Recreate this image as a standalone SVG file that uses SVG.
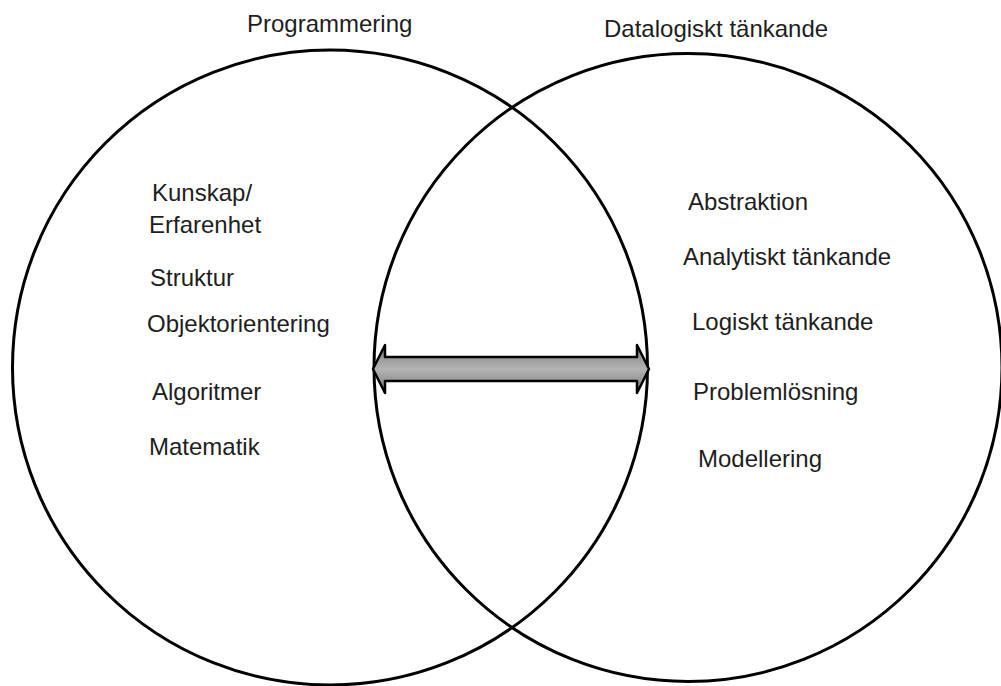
<svg xmlns="http://www.w3.org/2000/svg" width="1001" height="686" viewBox="0 0 1001 686">
  <style>
    .ring { fill: none; stroke: #000; stroke-width: 3; }
    .lbl { font-family: "Liberation Sans", Arial, sans-serif; font-size: 24px; fill: #1e1e1e; }
    .arrow { stroke: #000; stroke-width: 2.5; stroke-linejoin: round; fill: url(#arrowFill); }
  </style>
  <defs>
    <linearGradient id="arrowFill" x1="0" y1="0" x2="0" y2="1">
      <stop offset="0" stop-color="#7a7a7a"/>
      <stop offset="0.5" stop-color="#b4b4b4"/>
      <stop offset="1" stop-color="#7a7a7a"/>
    </linearGradient>
  </defs>
  <rect width="1001" height="686" fill="#fff"/>

  <g id="programmering">
    <circle class="ring" cx="330" cy="367.5" r="317.5"/>
    <text class="lbl" x="247" y="32">Programmering</text>
    <text class="lbl" x="152" y="201">Kunskap/</text>
    <text class="lbl" x="149" y="233">Erfarenhet</text>
    <text class="lbl" x="150" y="286">Struktur</text>
    <text class="lbl" x="147" y="332">Objektorientering</text>
    <text class="lbl" x="152" y="400">Algoritmer</text>
    <text class="lbl" x="149" y="455">Matematik</text>
  </g>

  <g id="datalogiskt-tankande">
    <circle class="ring" cx="688" cy="367.5" r="314"/>
    <text class="lbl" x="604" y="37">Datalogiskt tänkande</text>
    <text class="lbl" x="688" y="210">Abstraktion</text>
    <text class="lbl" x="683" y="265">Analytiskt tänkande</text>
    <text class="lbl" x="692" y="330">Logiskt tänkande</text>
    <text class="lbl" x="693" y="400">Problemlösning</text>
    <text class="lbl" x="698" y="467">Modellering</text>
  </g>

  <g id="connectors">
    <path class="arrow" d="M373,369 L385,345 L385,357 L637,357 L637,345 L649,369 L637,393 L637,381 L385,381 L385,393 Z"/>
  </g>
</svg>
